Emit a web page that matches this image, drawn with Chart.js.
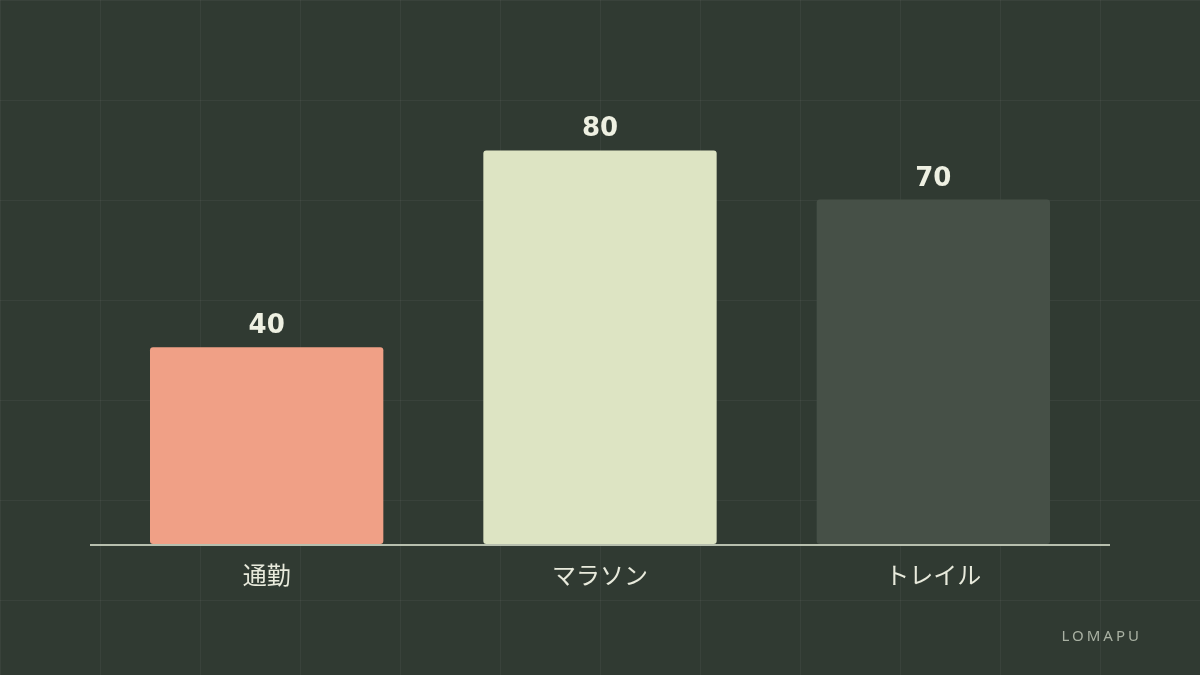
<!DOCTYPE html>
<html lang="ja">
<head>
<meta charset="utf-8">
<title>LOMAPU</title>
<script src="https://cdn.jsdelivr.net/npm/chart.js@4.4.1/dist/chart.umd.min.js"></script>
<style>
  html, body { margin: 0; padding: 0; }
  body {
    width: 1200px;
    height: 675px;
    overflow: hidden;
    position: relative;
    background-color: #303a32;
    background-image:
      linear-gradient(to right, rgba(255,255,255,0.045) 1px, transparent 1px),
      linear-gradient(to bottom, rgba(255,255,255,0.045) 1px, transparent 1px);
    background-size: 100px 100px;
  }
  #wrap { position: absolute; left: 0; top: 0; width: 1200px; height: 675px; }
  .brand {
    position: absolute;
    right: 58px;
    top: 625px;
    font-family: "Noto Sans", "Open Sans", sans-serif;
    font-size: 15px;
    letter-spacing: 3px;
    color: #a9b1a3;
  }
</style>
</head>
<body>
<div id="wrap"><canvas id="chart"></canvas></div>
<div class="brand">LOMAPU</div>
<script>
const categories = ["通勤", "マラソン", "トレイル"];
const values = [40, 80, 70];
const barColors = ["#f0a086", "#dde4c3", "#465047"];
const yMin = 0;
const yMax = 100;

// value labels above each bar
const valueLabels = {
  id: "valueLabels",
  afterDatasetsDraw(chart) {
    const ctx = chart.ctx;
    const meta = chart.getDatasetMeta(0);
    ctx.save();
    ctx.font = "bold 26px 'DejaVu Sans', sans-serif";
    ctx.fillStyle = "#eef0e2";
    ctx.textAlign = "center";
    ctx.textBaseline = "alphabetic";
    meta.data.forEach((bar, i) => {
      ctx.fillText(String(values[i]), bar.x, bar.y - 14);
    });
    ctx.restore();
  }
};

// baseline a bit wider than the plot area
const baseline = {
  id: "baseline",
  afterDatasetsDraw(chart) {
    const { ctx, chartArea } = chart;
    ctx.save();
    ctx.strokeStyle = "#b7bfae";
    ctx.lineWidth = 2;
    ctx.beginPath();
    ctx.moveTo(chartArea.left - 10, chartArea.bottom + 1);
    ctx.lineTo(chartArea.right + 10, chartArea.bottom + 1);
    ctx.stroke();
    ctx.restore();
  }
};

new Chart(document.getElementById("chart"), {
  type: "bar",
  data: {
    labels: categories,
    datasets: [{
      data: values,
      backgroundColor: barColors,
      borderRadius: 3,
      borderSkipped: false,
      barPercentage: 0.7,
      categoryPercentage: 1
    }]
  },
  options: {
    responsive: true,
    maintainAspectRatio: false,
    animation: false,
    layout: { padding: { left: 100, right: 100, top: 52, bottom: 0 } },
    plugins: {
      legend: { display: false },
      tooltip: { enabled: false }
    },
    scales: {
      x: {
        grid: { display: false, drawTicks: false },
        border: { display: false },
        ticks: {
          color: "#e8eadc",
          padding: 19,
          font: { family: "'DejaVu Sans', 'Noto Sans CJK JP', sans-serif", size: 24 }
        },
        afterFit(scale) { scale.height = 131; }
      },
      y: {
        display: false,
        min: yMin,
        max: yMax
      }
    }
  },
  plugins: [valueLabels, baseline]
});
</script>
</body>
</html>
